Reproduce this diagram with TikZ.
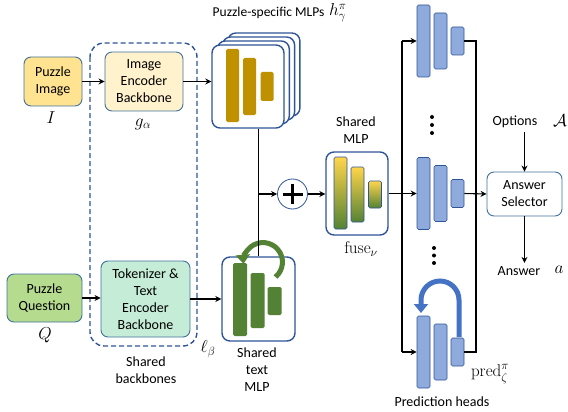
\documentclass[tikz,border=0pt]{standalone}
\usepackage{fontspec}
\setsansfont{Carlito}
\usetikzlibrary{arrows.meta}

\definecolor{boxblue}{HTML}{41719C}
\definecolor{darkblue}{HTML}{2F5597}
\definecolor{cImg}{HTML}{FFE391}
\definecolor{cEnc}{HTML}{FFF2CC}
\definecolor{cQue}{HTML}{B5DB8F}
\definecolor{cTok}{HTML}{C5ECD6}
\definecolor{cGold}{HTML}{BF9000}
\definecolor{cGreen}{HTML}{548235}
\definecolor{cHead}{HTML}{8FAADC}
\definecolor{cLoop}{HTML}{4472C4}
\definecolor{cFuseTop}{HTML}{FFD54A}
\definecolor{cFuseMid}{HTML}{FFC000}

\tikzset{
  inbox/.style={draw=boxblue, line width=0.9pt, rounded corners=7pt, align=center, inner sep=0pt,
    font=\sffamily\fontsize{14}{17}\selectfont},
  mlpbox/.style={draw=darkblue, line width=1.4pt, fill=white, rounded corners=8pt, inner sep=0pt},
  bar/.style={inner sep=0pt, minimum width=13pt, rounded corners=1.5pt},
  goldbar/.style={bar, fill=cGold},
  greenbar/.style={bar, fill=cGreen, minimum width=14pt},
  fusebar/.style={bar, top color=cFuseTop, middle color=cFuseMid, bottom color=cGreen, draw=darkblue, line width=0.6pt},
  headbar/.style={bar, fill=cHead, draw=darkblue, line width=0.6pt},
  arr/.style={-{Stealth[length=6pt,width=6pt]}, line width=1.1pt},
  lbl/.style={font=\sffamily\fontsize{14}{17}\selectfont, align=center},
  mathlbl/.style={font=\fontsize{17}{20}\selectfont},
  loop/.style={line width=5pt, -{Triangle[length=9pt,width=14pt]}},
}

\begin{document}
\begin{tikzpicture}[x=1pt,y=-1pt]
\useasboundingbox (0,0) rectangle (568,412);

% shared backbones
\draw[darkblue, line width=1.4pt, dash pattern=on 5pt off 3pt, rounded corners=14pt] (90,43) rectangle (197,346);

\node[inbox, fill=cImg, minimum width=58pt, minimum height=49pt] (img) at (53,81.5) {Puzzle\\Image};
\node[inbox, fill=cEnc, minimum width=78pt, minimum height=59pt] (enc) at (144,81.5) {Image\\Encoder\\Backbone};
\node[inbox, fill=cQue, minimum width=75pt, minimum height=48pt] (que) at (44.5,298) {Puzzle\\Question};
\node[inbox, fill=cTok, minimum width=89pt, minimum height=76pt] (tok) at (145.5,299) {Tokenizer \&\\Text\\Encoder\\Backbone};

\node[mathlbl] (lI) at (51,118) {$I$};
\node[mathlbl] (lg) at (143,124) {$g_{\alpha}$};
\node[mathlbl] (lQ) at (45,335) {$Q$};
\node[mathlbl] (ll) at (208,349) {$\ell_{\beta}$};
\node[lbl] (lbb) at (146,370) {Shared\\backbones};

% puzzle-specific MLPs
\foreach \i in {3,2,1}
  \node[mlpbox, minimum width=72pt, minimum height=83pt] (mlp\i) at (248+5.3*\i,86.5-4*\i) {};
\node[mlpbox, minimum width=72pt, minimum height=83pt] (mlp) at (248,86.5) {};
\node[goldbar, minimum height=73pt] (ga) at (232.5,85.5) {};
\node[goldbar, minimum height=57pt] (gb) at (249.5,86.5) {};
\node[goldbar, minimum height=29pt] (gc) at (267,86.5) {};
\node[lbl, font=\sffamily\fontsize{13.5}{16}\selectfont, anchor=east] (lmlp) at (328,13) {Puzzle-specific MLPs};
\node[mathlbl, anchor=west, inner sep=1pt] (lh) at (lmlp.east) {$h^{\pi}_{\gamma}$};

% shared text MLP
\node[mlpbox, minimum width=73pt, minimum height=84pt] (txt) at (258.5,299) {};
\node[greenbar, minimum height=73pt] (ta) at (240,299.5) {};
\node[greenbar, minimum height=55pt] (tb) at (257.5,300.5) {};
\node[greenbar, minimum height=28pt] (tc) at (274.5,301) {};
\draw[loop, draw=cGreen] (275.5,277) arc (50:-185:19.5);
\node[lbl] (ltxt) at (257,370) {Shared\\text\\MLP};

% fusion
\node[circle, draw=darkblue, line width=0.8pt, fill=white, minimum size=30pt, inner sep=0pt] (plus) at (292.5,194) {};
\draw[line width=3pt] ([xshift=-10pt]plus.center) -- ([xshift=10pt]plus.center)
  ([yshift=-10pt]plus.center) -- ([yshift=10pt]plus.center);
\node[mlpbox, minimum width=62pt, minimum height=83pt] (fuse) at (357,193.5) {};
\node[fusebar, minimum height=72pt] (fa) at (340.5,193) {};
\node[fusebar, minimum height=55pt] (fb) at (357.5,194.5) {};
\node[fusebar, minimum height=27pt] (fc) at (375,194.5) {};
\node[lbl] (lfuse) at (356,130) {Shared\\MLP};
\node[mathlbl] (lfu) at (361,249) {$\mathrm{fuse}_{\nu}$};

% prediction heads
\foreach \n/\y in {1/41,2/193.5,3/352}{
  \node[headbar, minimum height=72pt] (ha\n) at (423.5,\y) {};
  \node[headbar, minimum height=56pt] (hb\n) at (440.5,\y) {};
  \node[headbar, minimum height=28pt] (hc\n) at (457.5,\y) {};
}
\foreach \y in {117,125,133} \fill (432,\y) circle (2pt);
\foreach \y in {248,255.5,263} \fill (434,\y) circle (2pt);
\draw[loop, draw=cLoop] (459,337) -- (459,300) arc (0:-180:19) -- (421,313);
\node[mathlbl] (lpred) at (490,374) {$\mathrm{pred}^{\pi}_{\zeta}$};
\node[lbl] (lheads) at (442,402) {Prediction heads};

\coordinate (lt) at (402,41);
\coordinate (lb) at (402,352);
\coordinate (rt) at (476,41);
\coordinate (rb) at (476,352);

% answer selection
\node[inbox, fill=white, minimum width=75pt, minimum height=44pt] (sel) at (524.5,194) {Answer\\Selector};
\node[lbl] (opt) at (515,122) {Options};
\node[mathlbl] (lA) at (560,121) {$\mathcal{A}$};
\node[lbl] (ans) at (519,271) {Answer};
\node[mathlbl] (la) at (559,270) {$a$};

\draw[arr] (img) -- (enc);
\draw[arr] (enc.east) -- (enc.east -| mlp.west);
\draw[arr] (que.east) -- (que.east -| tok.west);
\draw[arr] (tok.east) -- (tok.east -| txt.west);
\draw[line width=1.1pt] (mlp.south -| txt.north) -- (txt.north);
\draw[arr] (plus.west -| txt.north) -- (plus.west);
\draw[arr] (plus.east) -- (plus.east -| fuse.west);
\draw[arr] (fuse.east) -- (ha2.west);
\draw[line width=1.1pt] (lt) -- (lb);
\draw[arr] (lt) -- (ha1.west);
\draw[arr] (lb) -- (ha3.west);
\draw[line width=1.1pt] (hc1.east) -- (rt) -- (rb) -- (hc3.east);
\draw[arr] (hc2.east) -- (sel.west);
\draw[arr] (sel.north |- opt.south) -- (sel.north);
\draw[arr] (sel.south) -- (sel.south |- ans.north);
\end{tikzpicture}
\end{document}
